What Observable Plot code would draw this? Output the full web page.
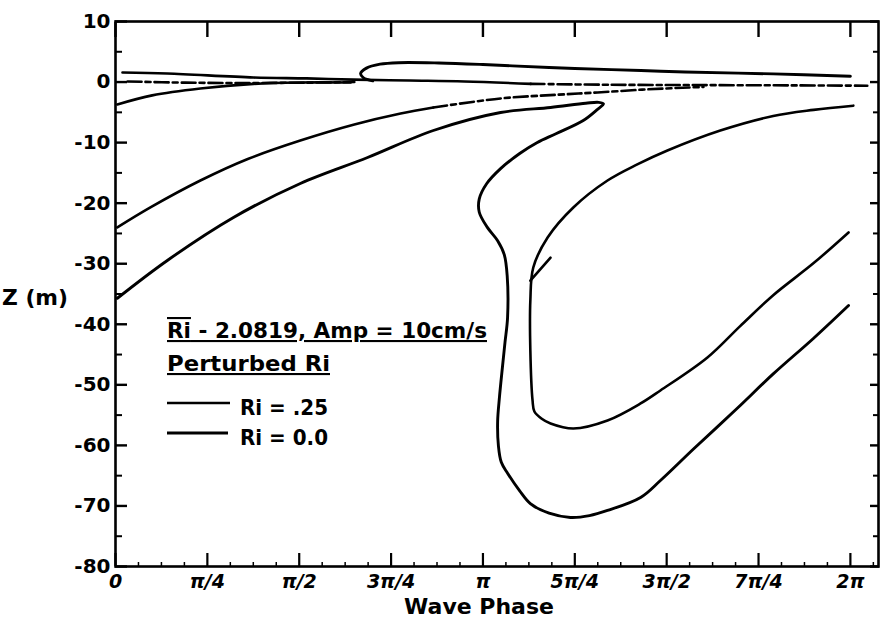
<!DOCTYPE html>
<html><head><meta charset="utf-8">
<script src="https://cdn.jsdelivr.net/npm/d3@7"></script>
<script src="https://cdn.jsdelivr.net/npm/@observablehq/plot@0.6"></script>
<style>
html,body{margin:0;padding:0;background:#fff;}
#chart{width:880px;height:619px;overflow:hidden;}
</style></head><body><div id="chart"></div>
<script>
// ---- axis ticks (phase in units of pi) ----
const phaseTicks = [0, 0.25, 0.5, 0.75, 1, 1.25, 1.5, 1.75, 2];
const phaseTickLabels = ["0", "π/4", "π/2", "3π/4", "π", "5π/4", "3π/2", "7π/4", "2π"];
const phaseMinorTicks = [0.0625,0.125,0.1875,0.3125,0.375,0.4375,0.5625,0.625,0.6875,0.8125,0.875,0.9375,1.0625,1.125,1.1875,1.3125,1.375,1.4375,1.5625,1.625,1.6875,1.8125,1.875,1.9375,2.0625];
const zTicks = [10, 0, -10, -20, -30, -40, -50, -60, -70, -80];
const zMinorTicks = [5, -5, -15, -25, -35, -45, -55, -65, -75];

// ---- contour traces (phase/pi, Z in m) ----
// near-surface line from left, into the lower branch of the small loop
const topLinePhase = [0.019, 0.141, 0.376, 0.52, 0.648, 0.80, 0.95, 1.13];
const topLineZ     = [1.58, 1.41, 0.75, 0.6, 0.4, 0.25, 0.1, -0.3];
const topLineRightPhase = [1.13, 1.35, 1.6, 1.85, 2.046];
const topLineRightZ     = [-0.3, -0.45, -0.5, -0.55, -0.6];
// upper branch of the small loop near Z = 3
const loopPhase = [0.70, 0.675, 0.667, 0.683, 0.72, 0.77, 0.88, 1.0, 1.18, 1.25, 1.43, 1.55, 1.79, 2.0];
const loopZ     = [0.2, 0.7, 1.4, 2.3, 2.95, 3.2, 3.15, 2.9, 2.4, 2.25, 1.9, 1.65, 1.35, 0.95];
// short dashed line near Z = 0 on the left
const zeroDashPhase = [0.033, 0.19, 0.35, 0.52, 0.65];
const zeroDashZ     = [0.1, -0.1, -0.15, -0.1, 0.0];
// line rising from Z = -4 at the left edge
const risePhase = [0.005, 0.1, 0.231, 0.376, 0.5, 0.64];
const riseZ     = [-3.7, -2.2, -1.06, -0.3, -0.07, -0.07];
// upper long curve from Z = -24
const upperPhase = [0.005, 0.095, 0.231, 0.36, 0.503, 0.65, 0.776, 0.865];
const upperZ     = [-24.0, -20.7, -16.26, -12.7, -9.65, -7.0, -5.19, -4.2];
const upperDashPhase = [0.865, 1.048, 1.2, 1.312, 1.45, 1.6];
const upperDashZ     = [-4.2, -2.71, -2.1, -1.72, -1.2, -0.8];
// lower long curve from Z = -35, folding back into the deep outer loop
const outerPhase = [0.005, 0.141, 0.321, 0.503, 0.686, 0.865, 1.048, 1.184, 1.28, 1.315, 1.328, 1.31, 1.273, 1.2, 1.148, 1.1, 1.048, 1.01, 0.99, 0.99, 1.012, 1.04, 1.058, 1.066, 1.067, 1.06, 1.053, 1.045, 1.04, 1.042, 1.05, 1.067, 1.1, 1.129, 1.18, 1.238, 1.29, 1.339, 1.429, 1.483, 1.573, 1.69, 1.79, 1.9, 1.995];
const outerZ     = [-35.7, -29.46, -22.36, -16.75, -12.46, -8.0, -5.03, -4.2, -3.5, -3.35, -3.6, -4.6, -6.35, -8.5, -9.98, -11.8, -14.3, -16.8, -19.3, -21.5, -24.0, -26.2, -28.5, -32.0, -38.9, -43.0, -47.1, -52.0, -56.0, -60.0, -62.8, -64.6, -67.5, -69.6, -71.2, -71.9, -71.6, -70.75, -68.6, -65.8, -60.6, -54.0, -48.2, -42.3, -36.9];
// inner U-shaped curve
const innerPhase = [2.008, 1.9, 1.79, 1.646, 1.502, 1.42, 1.339, 1.246, 1.176, 1.137, 1.129, 1.129, 1.135, 1.14, 1.16, 1.184, 1.246, 1.339, 1.429, 1.483, 1.611, 1.70, 1.79, 1.9, 1.995];
const innerZ     = [-3.9, -4.6, -5.6, -8.0, -11.3, -13.6, -16.26, -20.71, -25.67, -30.62, -36.07, -44.33, -52.58, -54.4, -55.6, -56.38, -57.21, -55.89, -53.08, -50.93, -45.48, -40.3, -35.2, -29.9, -24.84];
// short fragment beside the inner curve
const fragPhase = [1.129, 1.184];
const fragZ     = [-32.8, -29.0];

const levels = ["Ri = .25", "Ri = 0.0"];
const curves = [
  {name: "topLine", level: levels[0], dashed: false, phase: topLinePhase, z: topLineZ},
  {name: "topLineRight", level: levels[0], dashed: true, phase: topLineRightPhase, z: topLineRightZ},
  {name: "loop", level: levels[1], dashed: false, phase: loopPhase, z: loopZ},
  {name: "zeroDash", level: levels[0], dashed: true, phase: zeroDashPhase, z: zeroDashZ},
  {name: "rise", level: levels[0], dashed: false, phase: risePhase, z: riseZ},
  {name: "upper", level: levels[0], dashed: false, phase: upperPhase, z: upperZ},
  {name: "upperDash", level: levels[0], dashed: true, phase: upperDashPhase, z: upperDashZ},
  {name: "outer", level: levels[1], dashed: false, phase: outerPhase, z: outerZ},
  {name: "inner", level: levels[0], dashed: false, phase: innerPhase, z: innerZ},
  {name: "frag", level: levels[0], dashed: false, phase: fragPhase, z: fragZ}
];
const rows = curves.flatMap(c => c.phase.map((p, i) => ({curve: c.name, level: c.level, dashed: c.dashed, phase: p, z: c.z[i]})));

const font = "'DejaVu Sans', 'Liberation Sans', sans-serif";
const noText = () => "";

const plot = Plot.plot({
  width: 880, height: 619,
  marginLeft: 115, marginRight: 2, marginTop: 21, marginBottom: 53,
  style: {fontFamily: font, fontWeight: "bold", fontSize: "20px", color: "#000", background: "#fff"},
  x: {domain: [0, 2.0765]},
  y: {domain: [-80, 10]},
  marks: [
    Plot.frame({stroke: "#000", strokeWidth: 2.6}),
    // ticks pointing inward
    Plot.axisY(zTicks, {anchor: "left", tickSize: -12, tickFormat: noText, label: null, strokeWidth: 2.4}),
    Plot.axisY(zMinorTicks, {anchor: "left", tickSize: -7, tickFormat: noText, label: null, strokeWidth: 2}),
    Plot.axisY(zTicks, {anchor: "right", tickSize: -9, tickFormat: noText, label: null, strokeWidth: 2.4}),
    Plot.axisY(zMinorTicks, {anchor: "right", tickSize: -6, tickFormat: noText, label: null, strokeWidth: 2}),
    Plot.axisX(phaseTicks, {anchor: "top", tickSize: -15, tickFormat: noText, label: null, strokeWidth: 2.4}),
    Plot.axisX(phaseTicks, {anchor: "bottom", tickSize: -13, tickFormat: noText, label: null, strokeWidth: 2.2}),
    Plot.axisX(phaseMinorTicks, {anchor: "bottom", tickSize: -4, tickFormat: noText, label: null, strokeWidth: 1.5}),
    // tick labels
    Plot.axisY(zTicks, {anchor: "left", tickSize: 0, tickPadding: 5, tickFormat: d => String(d), label: null, fontSize: 20, fontWeight: "bold"}),
    Plot.axisX(phaseTicks, {anchor: "bottom", tickSize: 0, tickPadding: 8, tickFormat: d => phaseTickLabels[phaseTicks.indexOf(d)], label: null, fontSize: 19, fontWeight: "bold", fontStyle: "italic"}),
    // contours
    Plot.line(rows.filter(d => !d.dashed && d.level === levels[0]), {x: "phase", y: "z", z: "curve", stroke: "#000", strokeWidth: 2.6, curve: "catmull-rom"}),
    Plot.line(rows.filter(d => !d.dashed && d.level === levels[1]), {x: "phase", y: "z", z: "curve", stroke: "#000", strokeWidth: 2.9, curve: "catmull-rom"}),
    Plot.line(rows.filter(d => d.dashed), {x: "phase", y: "z", z: "curve", stroke: "#000", strokeWidth: 2.6, strokeDasharray: "14,4,5,4", curve: "catmull-rom"})
  ]
});
document.getElementById("chart").appendChild(plot);

// annotations: axis titles and in-plot legend
const svg = d3.select(plot);
const g = svg.append("g").attr("font-family", font).attr("font-weight", "bold").attr("fill", "#000").attr("text-anchor", "start");
g.append("text").attr("x", 2).attr("y", 305).attr("font-size", 22).attr("textLength", 66).attr("lengthAdjust", "spacingAndGlyphs").text("Z (m)");
g.append("text").attr("x", 479).attr("y", 614).attr("text-anchor", "middle").attr("font-size", 22).text("Wave Phase");

const t1 = g.append("text").attr("x", 167).attr("y", 338).attr("font-size", 21)
  .attr("textLength", 320).attr("lengthAdjust", "spacingAndGlyphs");
t1.append("tspan").attr("text-decoration", "overline underline").text("Ri");
t1.append("tspan").attr("text-decoration", "underline").text(" - 2.0819, Amp = 10cm/s");
g.append("text").attr("x", 167).attr("y", 371).attr("font-size", 21).attr("text-decoration", "underline")
  .attr("textLength", 163).attr("lengthAdjust", "spacingAndGlyphs").text("Perturbed Ri");
g.append("line").attr("x1", 167).attr("x2", 230).attr("y1", 403).attr("y2", 403).attr("stroke", "#000").attr("stroke-width", 2.6);
g.append("line").attr("x1", 167).attr("x2", 228).attr("y1", 433).attr("y2", 433).attr("stroke", "#000").attr("stroke-width", 2.9);
g.append("text").attr("x", 240).attr("y", 415).attr("font-size", 21).attr("textLength", 88).attr("lengthAdjust", "spacingAndGlyphs").text(levels[0]);
g.append("text").attr("x", 240).attr("y", 445).attr("font-size", 21).attr("textLength", 88).attr("lengthAdjust", "spacingAndGlyphs").text(levels[1]);
</script></body></html>
